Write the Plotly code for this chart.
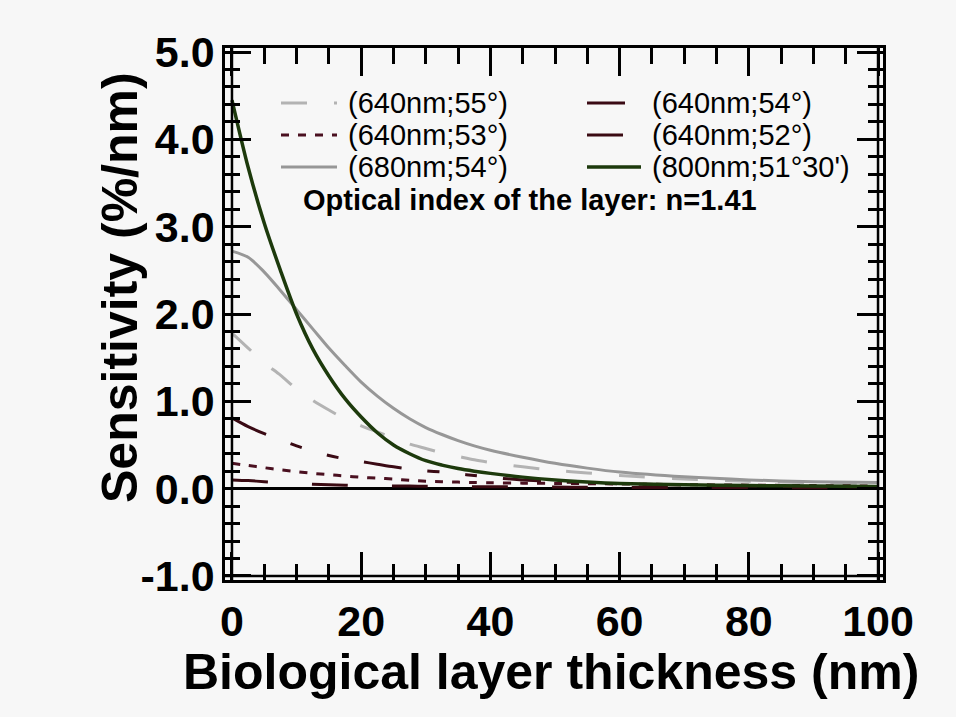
import plotly.graph_objects as go

# Layer thickness (nm)
thickness = [0, 2.5, 5, 7.5, 10, 12.5, 15, 17.5, 20, 22.5, 25, 27.5, 30, 32.5, 35, 37.5, 40,
             45, 50, 55, 60, 70, 80, 90, 100]

# Sensitivity (%/nm) for each wavelength / angle configuration
s_640_55 = [1.78, 1.61, 1.44, 1.30, 1.14, 1.01, 0.90, 0.80, 0.72, 0.65, 0.58, 0.51, 0.46, 0.41, 0.37, 0.33, 0.30,
            0.25, 0.21, 0.18, 0.15, 0.11, 0.085, 0.07, 0.06]
s_640_54 = [0.81, 0.71, 0.63, 0.56, 0.49, 0.43, 0.38, 0.34, 0.31, 0.28, 0.25, 0.225, 0.205, 0.19, 0.17, 0.15, 0.13,
            0.10, 0.08, 0.065, 0.055, 0.04, 0.03, 0.025, 0.02]
s_640_53 = [0.29, 0.265, 0.24, 0.215, 0.195, 0.175, 0.16, 0.145, 0.13, 0.12, 0.11, 0.095, 0.085, 0.08, 0.075, 0.07, 0.068,
            0.063, 0.06, 0.057, 0.054, 0.046, 0.04, 0.035, 0.03]
s_640_52 = [0.10, 0.092, 0.08, 0.068, 0.058, 0.05, 0.045, 0.04, 0.037, 0.034, 0.031, 0.029, 0.027, 0.026, 0.025, 0.023, 0.022,
            0.02, 0.018, 0.016, 0.015, 0.013, 0.012, 0.011, 0.01]
s_680_54 = [2.72, 2.65, 2.48, 2.27, 2.05, 1.83, 1.61, 1.41, 1.22, 1.06, 0.92, 0.80, 0.70, 0.62, 0.55, 0.49, 0.44,
            0.36, 0.29, 0.235, 0.19, 0.135, 0.10, 0.08, 0.07]
s_800_5130 = [4.45, 3.68, 3.04, 2.50, 2.00, 1.60, 1.29, 1.03, 0.82, 0.64, 0.50, 0.40, 0.32, 0.27, 0.23, 0.20, 0.175,
              0.132, 0.10, 0.077, 0.06, 0.045, 0.035, 0.03, 0.025]

labels = ["(640nm;55°)", "(640nm;54°)", "(640nm;53°)", "(640nm;52°)", "(680nm;54°)", "(800nm;51°30')"]
y_ticks = [-1, 0, 1, 2, 3, 4, 5]
x_ticks = [0, 20, 40, 60, 80, 100]

series = [s_640_55, s_640_54, s_640_53, s_640_52, s_680_54, s_800_5130]
colors = ["#b3b3b3", "#3a0a14", "#4a1020", "#3a0a12", "#979797", "#1d3a0c"]
widths = [3, 3, 3, 3, 3, 3.5]
dashes = ["26px,27px", "38px,26px,12px,26px,12px,26px", "8px,9px", "36px,44px", "solid", "solid"]

FONT = "Liberation Sans, Arial, sans-serif"
BG = "#f7f7f7"
INK = "#000000"

# figure geometry (pixels)
W, H = 956, 717
L, R, T, B = 225, 73, 48, 137
PW, PH = W - L - R, H - T - B


def px(xp):
    return (xp - L) / PW


def py(yp):
    return (H - B - yp) / PH


fig = go.Figure()

# thickest/top-most curves drawn last
draw_order = [0, 2, 3, 1, 4, 5]
for i in draw_order:
    fig.add_trace(go.Scatter(
        x=thickness, y=series[i], mode="lines", name=labels[i],
        line=dict(color=colors[i], width=widths[i], dash=dashes[i], shape="spline", smoothing=0.8),
        showlegend=False,
    ))

shapes = []
annotations = []

# inner axis lines at x=0, x=100 and y=-1 (double-frame look)
for xv in (0, 100):
    shapes.append(dict(type="line", xref="x", yref="paper", x0=xv, x1=xv, y0=0, y1=1,
                       line=dict(color=INK, width=2.5)))
shapes.append(dict(type="line", xref="paper", yref="y", x0=0, x1=1, y0=-1, y1=-1,
                   line=dict(color=INK, width=2.5)))

# hand-placed legend: two columns, three rows
rows_y = [103, 135, 167]
col_line = [(281, 337), (587, 629)]
col_text = [346, 650]
legend_pos = [(0, 0), (1, 0), (0, 1), (1, 1), (0, 2), (1, 2)]
for i, (c, r) in enumerate(legend_pos):
    x0, x1 = col_line[c]
    if i == 5:
        x1 = 641
    yv = py(rows_y[r])
    shapes.append(dict(type="line", xref="paper", yref="paper", x0=px(x0), x1=px(x1), y0=yv, y1=yv,
                       line=dict(color=colors[i], width=widths[i], dash=dashes[i])))
    annotations.append(dict(xref="paper", yref="paper", x=px(col_text[c]), y=yv, text=labels[i],
                            showarrow=False, xanchor="left", yanchor="middle",
                            font=dict(family=FONT, size=29, color=INK)))

annotations.append(dict(xref="paper", yref="paper", x=px(301), y=py(200),
                        text="<b>Optical index of the layer: n=1.41</b>", showarrow=False,
                        xanchor="left", yanchor="middle",
                        font=dict(family=FONT, size=29, color=INK)))

# axis titles
annotations.append(dict(xref="paper", yref="paper", x=px(120), y=py(288),
                        text="<b>Sensitivity (%/nm)</b>", showarrow=False, textangle=-90,
                        xanchor="center", yanchor="middle",
                        font=dict(family=FONT, size=50, color=INK)))
annotations.append(dict(xref="paper", yref="paper", x=px(551), y=py(672),
                        text="<b>Biological layer thickness (nm)</b>", showarrow=False,
                        xanchor="center", yanchor="middle",
                        font=dict(family=FONT, size=50, color=INK)))

axis_common = dict(
    showline=True, linecolor=INK, linewidth=2.5, mirror="allticks",
    ticks="inside", tickcolor=INK, tickwidth=3,
    showgrid=False,
    tickfont=dict(family=FONT, size=43, color=INK, weight="bold"),
)

fig.update_layout(
    width=W, height=H,
    margin=dict(l=L, r=R, t=T, b=B, pad=0),
    paper_bgcolor=BG, plot_bgcolor=BG,
    showlegend=False,
    shapes=shapes,
    annotations=annotations,
    xaxis=dict(
        range=[-1.08, 100.77], tickvals=x_ticks, ticktext=[str(v) for v in x_ticks],
        ticklen=28, zeroline=False,
        minor=dict(dtick=5, tick0=0, ticks="inside", ticklen=16, tickwidth=3, tickcolor=INK),
        ticklabelstandoff=2,
        **axis_common,
    ),
    yaxis=dict(
        range=[-1.046, 5.046], tickvals=y_ticks, ticktext=[f"{v:.1f}" for v in y_ticks],
        ticklen=26, zeroline=True, zerolinecolor=INK, zerolinewidth=3,
        minor=dict(dtick=0.2, tick0=0, ticks="inside", ticklen=15, tickwidth=3, tickcolor=INK),
        ticklabelstandoff=-1,
        **axis_common,
    ),
)

fig.write_html("out.html")
